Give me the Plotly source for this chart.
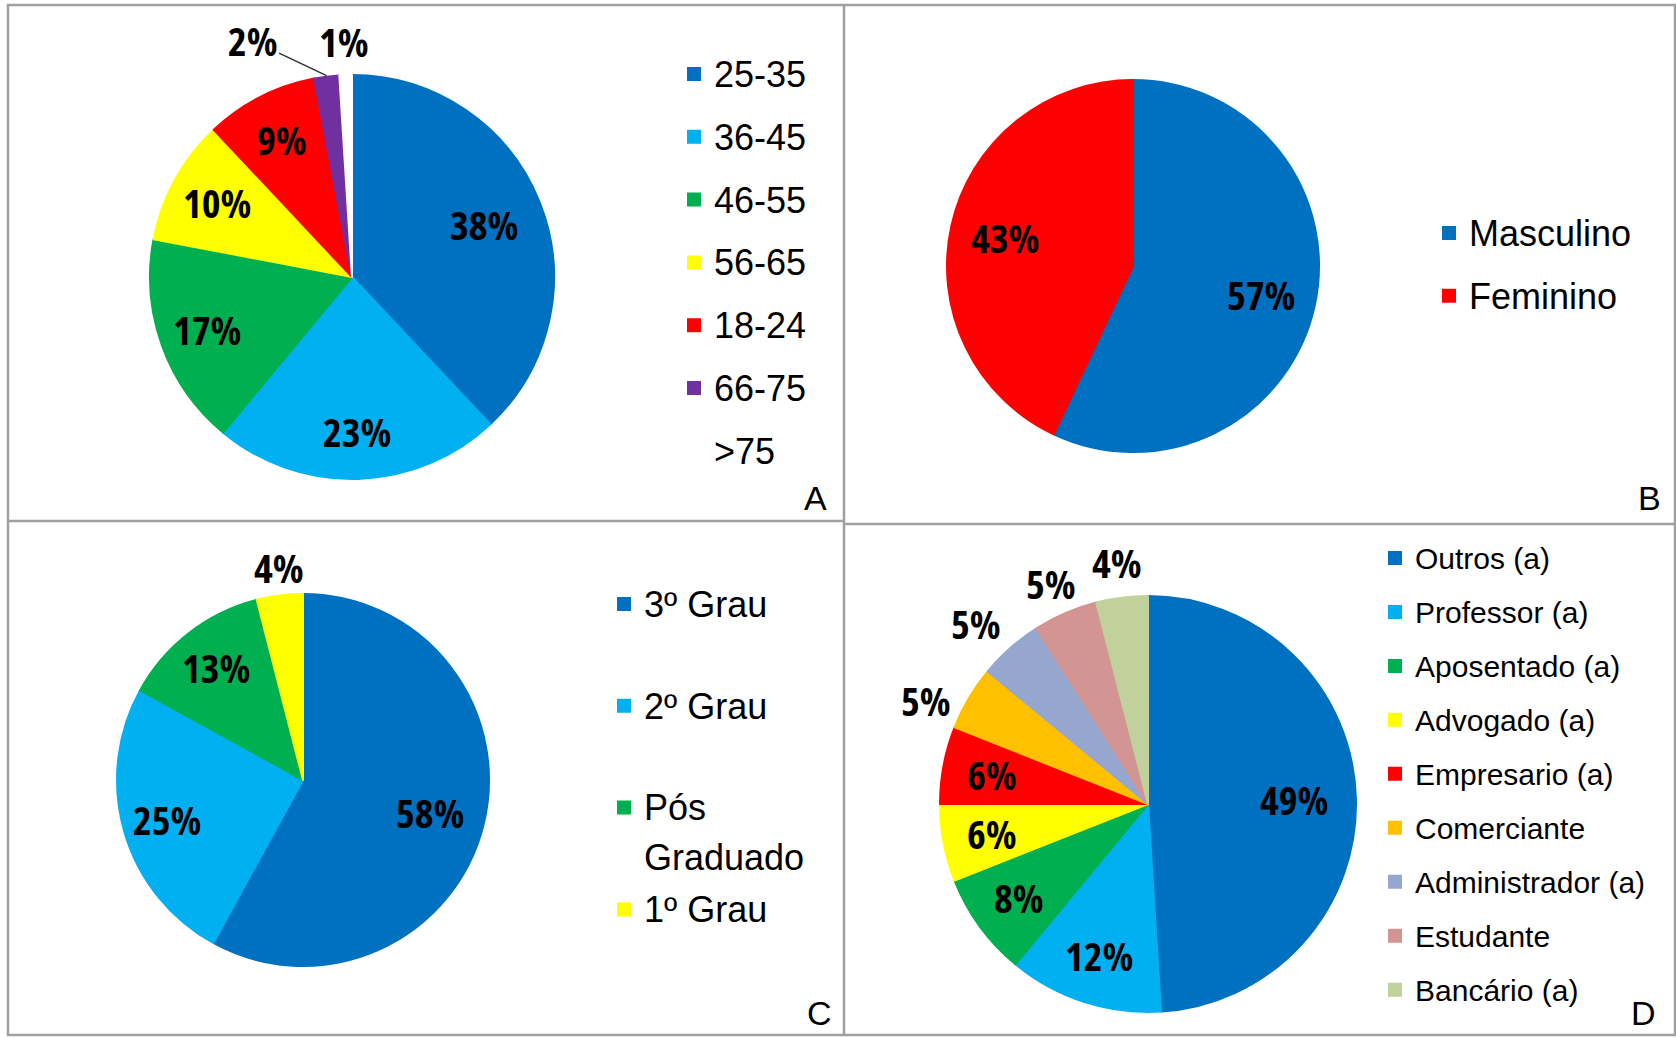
import math
import plotly.graph_objects as go

W, H = 1676, 1038

# ---------------- data ----------------
age_labels = ["25-35", "36-45", "46-55", "56-65", "18-24", "66-75", ">75"]
age_values = [38, 23, 17, 10, 9, 2, 1]
age_colors = ["#0070C0", "#00B0F0", "#00B050", "#FFFF00", "#FF0000", "#7030A0", "#FFFFFF"]

sex_labels = ["Masculino", "Feminino"]
sex_values = [57, 43]
sex_colors = ["#0070C0", "#FF0000"]

edu_labels = ["3º Grau", "2º Grau", "Pós Graduado", "1º Grau"]
edu_values = [58, 25, 13, 4]
edu_colors = ["#0070C0", "#00B0F0", "#00B050", "#FFFF00"]

job_labels = ["Outros (a)", "Professor (a)", "Aposentado (a)", "Advogado (a)", "Empresario (a)",
              "Comerciante", "Administrador (a)", "Estudante", "Bancário (a)"]
job_values = [49, 12, 8, 6, 6, 5, 5, 5, 4]
job_colors = ["#0070C0", "#00B0F0", "#00B050", "#FFFF00", "#FF0000",
              "#FFC000", "#95A7CF", "#D39494", "#C0D19B"]

panel_letters = ["A", "B", "C", "D"]

# ---------------- styles / helpers ----------------
LEG_FAMILY = "Liberation Sans, Arial, sans-serif"
LBL_FONT = dict(family="Open Sans, sans-serif", size=40, color="black", weight="bold")
COND = "<span style='font-stretch:condensed'>%s</span>"


def dom(cx, cy, r):
    return dict(x=[(cx - r) / W, (cx + r) / W], y=[1 - (cy + r) / H, 1 - (cy - r) / H])


def span(lbl, size, shift):
    return "<span style='font-size:%dpx;baseline-shift:%gpx'>%s</span>" % (size, shift, lbl)


def slice_labels(values, cx, cy, r, outside):
    """Percentage labels placed at each slice's mid angle (computed from the values)."""
    anns = []
    tot = float(sum(values))
    cum = 0.0
    for i, v in enumerate(values):
        a = (cum + v / 2.0) / tot * 2 * math.pi
        cum += v
        sx, sy = math.sin(a), math.cos(a)
        txt = COND % ("%d%%" % round(v / tot * 100))
        if i in outside:
            px, py = cx + r * sx, cy - r * sy
            dx, dy, arrow = outside[i]
            ann = dict(text=txt, x=px / W, y=1 - py / H, xref="paper", yref="paper",
                       font=LBL_FONT, xanchor="center", yanchor="middle")
            if arrow:
                ann.update(showarrow=True, ax=dx, ay=dy, arrowhead=0, arrowwidth=1.5,
                           arrowcolor="#303030", standoff=0)
            else:
                ann.update(showarrow=False, xshift=dx, yshift=-dy)
        else:
            f = 0.70 if v >= 38 else 0.76
            px, py = cx + f * r * sx, cy - f * r * sy
            ann = dict(text=txt, x=px / W, y=1 - py / H, xref="paper", yref="paper",
                       font=LBL_FONT, xanchor="center", yanchor="middle", showarrow=False)
        anns.append(ann)
    return anns


PIES = [
    # labels, values, colors, legend id, (cx, cy, r), legend text size, baseline shift, outside labels
    (age_labels, age_values, age_colors, "legend", (352, 277, 203), 36, 5,
     {5: (-74, -35, True), 6: (-2, -33, False)}),
    (sex_labels, sex_values, sex_colors, "legend2", (1133, 266, 187), 36, 5, {}),
    (["3º Grau<br>\u00a0", "2º Grau<br>\u00a0", "Pós<br>Graduado", "1º Grau"], edu_values, edu_colors,
     "legend3", (303, 780, 187), 36, 2, {3: (-1, -27, False)}),
    (job_labels, job_values, job_colors, "legend4", (1148, 804, 209), 30, 4.5,
     {5: (-42, 3, False), 6: (-34, -24, False), 7: (-14, -29, False), 8: (-5, -34, False)}),
]

fig = go.Figure()
annotations = []
for labels, values, colors, lid, (cx, cy, r), lsize, shift, outside in PIES:
    fig.add_trace(go.Pie(
        labels=[span(l, lsize, shift) for l in labels], values=values, sort=False,
        direction="clockwise", marker=dict(colors=colors, line=dict(width=2, color=colors)),
        domain=dom(cx, cy, r - 1), textinfo="none", legend=lid, showlegend=True,
        hovertemplate="%{value}%<extra></extra>"))
    annotations += slice_labels(values, cx, cy, r, outside)


def leg(x, y, size, valign="middle"):
    return dict(x=x / W, y=1 - y / H, xanchor="left", yanchor="top",
                font=dict(family=LEG_FAMILY, size=size, color="black"),
                bgcolor="rgba(0,0,0,0)", borderwidth=0, itemclick=False, valign=valign)


# ---------------- frame ----------------
line = dict(color="#A0A0A0", width=2.5)
shapes = [
    dict(type="rect", xref="paper", yref="paper", x0=8 / W, x1=1675 / W, y0=1 - 1035 / H, y1=1 - 5 / H, line=line),
    dict(type="line", xref="paper", yref="paper", x0=844 / W, x1=844 / W, y0=1 - 1035 / H, y1=1 - 5 / H, line=line),
    dict(type="line", xref="paper", yref="paper", x0=8 / W, x1=844 / W, y0=1 - 521 / H, y1=1 - 521 / H, line=line),
    dict(type="line", xref="paper", yref="paper", x0=844 / W, x1=1675 / W, y0=1 - 524 / H, y1=1 - 524 / H, line=line),
]

letter_pos = [(815, 498), (1649, 498), (819, 1013), (1643, 1013)]
annotations += [
    dict(text=t, x=px / W, y=1 - py / H, xref="paper", yref="paper", showarrow=False,
         xanchor="center", yanchor="middle", font=dict(family=LEG_FAMILY, size=34, color="black"))
    for t, (px, py) in zip(panel_letters, letter_pos)
]

fig.update_layout(
    width=W, height=H, margin=dict(l=0, r=0, t=0, b=0, autoexpand=False),
    paper_bgcolor="white", plot_bgcolor="white",
    shapes=shapes, annotations=annotations,
    legend=leg(674, 37.6, 46),
    legend2=leg(1429, 196.6, 46),
    legend3=leg(604, 572.8, 38, "top"),
    legend4=leg(1375, 526, 39.2),
)

fig.write_html("out.html", config={"displayModeBar": False},
               post_script="document.body.style.margin='0px';")
